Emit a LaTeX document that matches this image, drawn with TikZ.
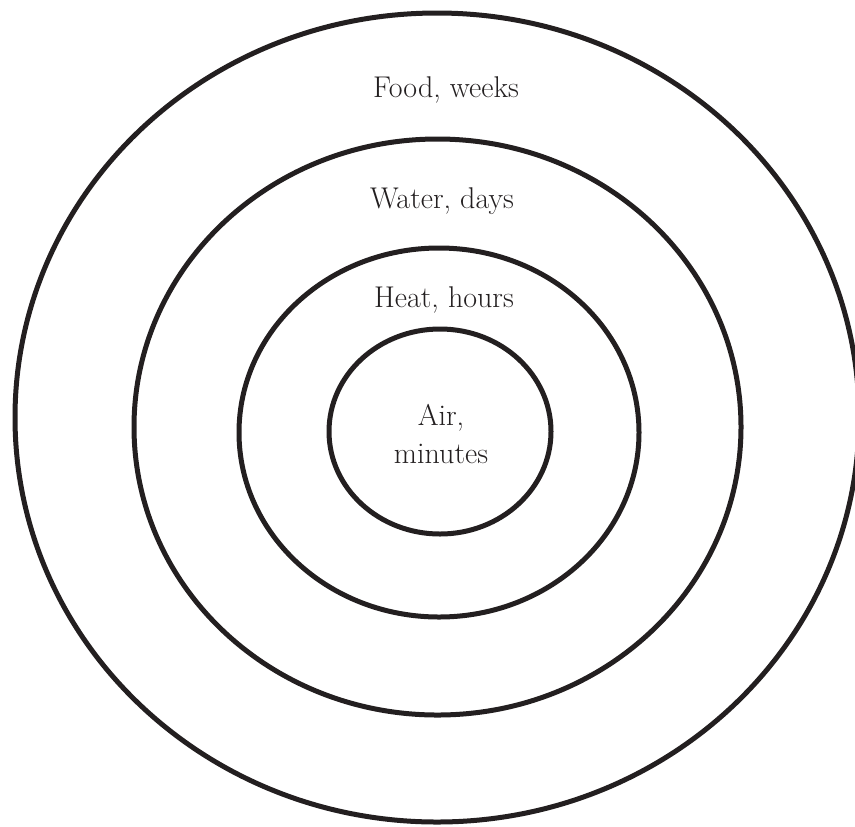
\documentclass[tikz,border=0pt]{standalone}
\usepackage{xcolor}
\usepackage{tikz}
\usetikzlibrary{shapes.geometric}
\definecolor{ink}{HTML}{231F20}

\begin{document}
\begin{tikzpicture}[
  x=0.5pt, y=-0.5pt,
  ring/.style={draw=ink, ellipse, line width=2.5pt, inner sep=0pt},
  lbl/.style={text=ink, anchor=base, align=center, inner sep=0pt,
    font=\fontsize{15}{19}\selectfont}
]
\useasboundingbox (0,0) rectangle (855,826);
\node[ring, minimum width=422pt, minimum height=404.5pt] (food) at (437,417.5) {};
\node[ring, minimum width=303.5pt, minimum height=288pt] (water) at (437.5,427) {};
\node[ring, minimum width=200pt, minimum height=184.5pt] (heat) at (439,432.5) {};
\node[ring, minimum width=111pt, minimum height=102.5pt] (air) at (440,431.5) {};

\node[lbl] (foodtext) at (446,97) {Food, weeks};
\node[lbl] (watertext) at (442,208) {Water, days};
\node[lbl] (heattext) at (444,307) {Heat, hours};
\node[lbl] (airtext) at (441,463) {Air,\\minutes};
\end{tikzpicture}
\end{document}
